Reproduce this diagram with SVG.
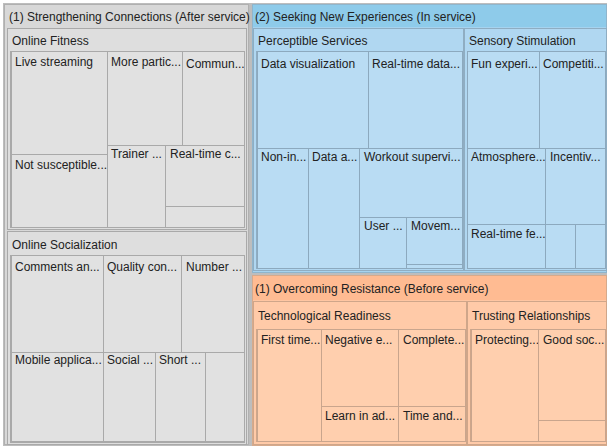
<svg xmlns="http://www.w3.org/2000/svg" width="607" height="446" viewBox="0 0 607 446">
  <style>
    text { font-family: "Liberation Sans", Arial, sans-serif; font-size: 12px; fill: #222; }
    .frame { fill: #bdbdbd; }
    .g-top { fill: #d8d8d8; stroke: #b0b0b0; stroke-width: 1; }
    .g-mid { fill: #dedede; stroke: #a9a9a9; stroke-width: 1; }
    .g-leaf { fill: #e1e1e1; stroke: #a9a9a9; stroke-width: 1; }
    .b-top { fill: #a6d3ef; stroke: #8fb5cc; stroke-width: 1; }
    .b-band { fill: #8ecbea; }
    .b-mid { fill: #b0d7f1; stroke: #8fadc2; stroke-width: 1; }
    .b-leaf { fill: #b9dcf3; stroke: #8ca9be; stroke-width: 1; }
    .o-top { fill: #ffc6a2; stroke: #d6aa8c; stroke-width: 1; }
    .o-band { fill: #ffbb92; }
    .o-mid { fill: #ffcaa8; stroke: #cfa68a; stroke-width: 1; }
    .o-leaf { fill: #ffcfae; stroke: #c9a58d; stroke-width: 1; }
  </style>

  <rect x="0" y="0" width="607" height="446" fill="#ffffff"/>
  <rect class="frame" x="3" y="3" width="604" height="443"/>

  <!-- (1) Strengthening Connections -->
  <g id="strengthening">
    <rect class="g-top" x="4.5" y="4.5" width="244" height="440"/>
    <text x="9" y="21">(1) Strengthening Connections (After service)</text>
  </g>
  <g id="online-fitness">
    <rect class="g-mid" x="7.5" y="28.5" width="239" height="201"/>
    <text x="12" y="45">Online Fitness</text>
    <rect class="g-mid" x="10.5" y="51.5" width="234" height="176"/>
  </g>
  <g id="live-streaming"><rect class="g-leaf" x="11.5" y="51.5" width="96" height="103"/><text x="15" y="66">Live streaming</text></g>
  <g id="more-participation"><rect class="g-leaf" x="107.5" y="51.5" width="75" height="94"/><text x="111" y="66">More partic...</text></g>
  <g id="community"><rect class="g-leaf" x="182.5" y="51.5" width="62" height="94"/><text x="186" y="68">Commun...</text></g>
  <g id="not-susceptible"><rect class="g-leaf" x="11.5" y="154.5" width="96" height="73"/><text x="15" y="169">Not susceptible...</text></g>
  <g id="trainer"><rect class="g-leaf" x="107.5" y="145.5" width="58" height="82"/><text x="111" y="158">Trainer ...</text></g>
  <g id="real-time-c"><rect class="g-leaf" x="165.5" y="145.5" width="79" height="61"/><text x="170" y="158">Real-time c...</text></g>
  <g id="fitness-small"><rect class="g-leaf" x="165.5" y="206.5" width="79" height="21"/></g>

  <g id="online-socialization">
    <rect class="g-mid" x="7.5" y="231.5" width="239" height="213"/>
    <text x="12" y="249">Online Socialization</text>
    <rect class="g-mid" x="10.5" y="255.5" width="234" height="187"/>
  </g>
  <g id="comments"><rect class="g-leaf" x="11.5" y="255.5" width="92" height="97"/><text x="15" y="271">Comments an...</text></g>
  <g id="quality"><rect class="g-leaf" x="103.5" y="255.5" width="78" height="97"/><text x="107" y="271">Quality con...</text></g>
  <g id="number"><rect class="g-leaf" x="181.5" y="255.5" width="63" height="97"/><text x="186" y="271">Number ...</text></g>
  <g id="mobile-app"><rect class="g-leaf" x="11.5" y="352.5" width="92" height="89"/><text x="15" y="364">Mobile applica...</text></g>
  <g id="social"><rect class="g-leaf" x="103.5" y="352.5" width="52" height="89"/><text x="107" y="364">Social ...</text></g>
  <g id="short"><rect class="g-leaf" x="155.5" y="352.5" width="50" height="89"/><text x="159" y="364">Short ...</text></g>
  <g id="socialization-small"><rect class="g-leaf" x="205.5" y="352.5" width="39" height="89"/></g>

  <!-- (2) Seeking New Experiences -->
  <g id="seeking">
    <rect class="b-top" x="252.5" y="4.5" width="354" height="268"/>
    <rect class="b-band" x="253" y="5" width="353" height="22"/>
    <text x="255" y="21">(2) Seeking New Experiences (In service)</text>
  </g>
  <g id="perceptible-services">
    <rect class="b-mid" x="253.5" y="28.5" width="210" height="242"/>
    <text x="258" y="45">Perceptible Services</text>
    <rect class="b-mid" x="256.5" y="51.5" width="206" height="217"/>
  </g>
  <g id="data-visualization"><rect class="b-leaf" x="257.5" y="51.5" width="111" height="97"/><text x="261" y="68">Data visualization</text></g>
  <g id="real-time-data"><rect class="b-leaf" x="368.5" y="51.5" width="94" height="97"/><text x="372" y="68">Real-time data...</text></g>
  <g id="non-in"><rect class="b-leaf" x="257.5" y="148.5" width="51" height="120"/><text x="261" y="161">Non-in...</text></g>
  <g id="data-a"><rect class="b-leaf" x="308.5" y="148.5" width="51" height="120"/><text x="312" y="161">Data a...</text></g>
  <g id="workout"><rect class="b-leaf" x="359.5" y="148.5" width="103" height="69"/><text x="364" y="161">Workout supervi...</text></g>
  <g id="user"><rect class="b-leaf" x="359.5" y="217.5" width="47" height="51"/><text x="364" y="230">User ...</text></g>
  <g id="movement"><rect class="b-leaf" x="406.5" y="217.5" width="56" height="47"/><text x="411" y="230">Movem...</text></g>
  <g id="perceptible-small"><rect class="b-leaf" x="406.5" y="264.5" width="56" height="4"/></g>

  <g id="sensory-stimulation">
    <rect class="b-mid" x="464.5" y="28.5" width="142" height="242"/>
    <text x="469" y="45">Sensory Stimulation</text>
    <rect class="b-mid" x="467.5" y="51.5" width="138" height="217"/>
  </g>
  <g id="fun-experience"><rect class="b-leaf" x="467.5" y="51.5" width="72" height="97"/><text x="471" y="68">Fun experi...</text></g>
  <g id="competition"><rect class="b-leaf" x="539.5" y="51.5" width="66" height="97"/><text x="543" y="68">Competiti...</text></g>
  <g id="atmosphere"><rect class="b-leaf" x="467.5" y="148.5" width="78" height="76"/><text x="471" y="161">Atmosphere...</text></g>
  <g id="incentive"><rect class="b-leaf" x="545.5" y="148.5" width="60" height="76"/><text x="550" y="161">Incentiv...</text></g>
  <g id="real-time-feedback"><rect class="b-leaf" x="467.5" y="224.5" width="78" height="44"/><text x="471" y="238">Real-time fe...</text></g>
  <g id="sensory-small-1"><rect class="b-leaf" x="545.5" y="224.5" width="30" height="44"/></g>
  <g id="sensory-small-2"><rect class="b-leaf" x="575.5" y="224.5" width="30" height="44"/></g>

  <!-- (1) Overcoming Resistance -->
  <g id="overcoming">
    <rect class="o-top" x="252.5" y="275.5" width="354" height="170"/>
    <rect class="o-band" x="253" y="276" width="353" height="24"/>
    <text x="255" y="293">(1) Overcoming Resistance (Before service)</text>
  </g>
  <g id="technological-readiness">
    <rect class="o-mid" x="253.5" y="301.5" width="213" height="143"/>
    <text x="258" y="320">Technological Readiness</text>
    <rect class="o-mid" x="256.5" y="329.5" width="209" height="112"/>
  </g>
  <g id="first-time"><rect class="o-leaf" x="257.5" y="329.5" width="64" height="112"/><text x="261" y="344">First time...</text></g>
  <g id="negative"><rect class="o-leaf" x="321.5" y="329.5" width="77" height="77"/><text x="325" y="344">Negative e...</text></g>
  <g id="complete"><rect class="o-leaf" x="398.5" y="329.5" width="67" height="77"/><text x="403" y="344">Complete...</text></g>
  <g id="learn-in-advance"><rect class="o-leaf" x="321.5" y="406.5" width="77" height="35"/><text x="325" y="420">Learn in ad...</text></g>
  <g id="time-and"><rect class="o-leaf" x="398.5" y="406.5" width="67" height="35"/><text x="403" y="420">Time and...</text></g>

  <g id="trusting-relationships">
    <rect class="o-mid" x="467.5" y="301.5" width="139" height="143"/>
    <text x="472" y="320">Trusting Relationships</text>
    <rect class="o-mid" x="470.5" y="329.5" width="135" height="112"/>
  </g>
  <g id="protecting"><rect class="o-leaf" x="471.5" y="329.5" width="67" height="112"/><text x="475" y="344">Protecting...</text></g>
  <g id="good-social"><rect class="o-leaf" x="538.5" y="329.5" width="67" height="91"/><text x="543" y="344">Good soc...</text></g>
  <g id="trusting-small"><rect class="o-leaf" x="538.5" y="420.5" width="67" height="21"/></g>
</svg>
